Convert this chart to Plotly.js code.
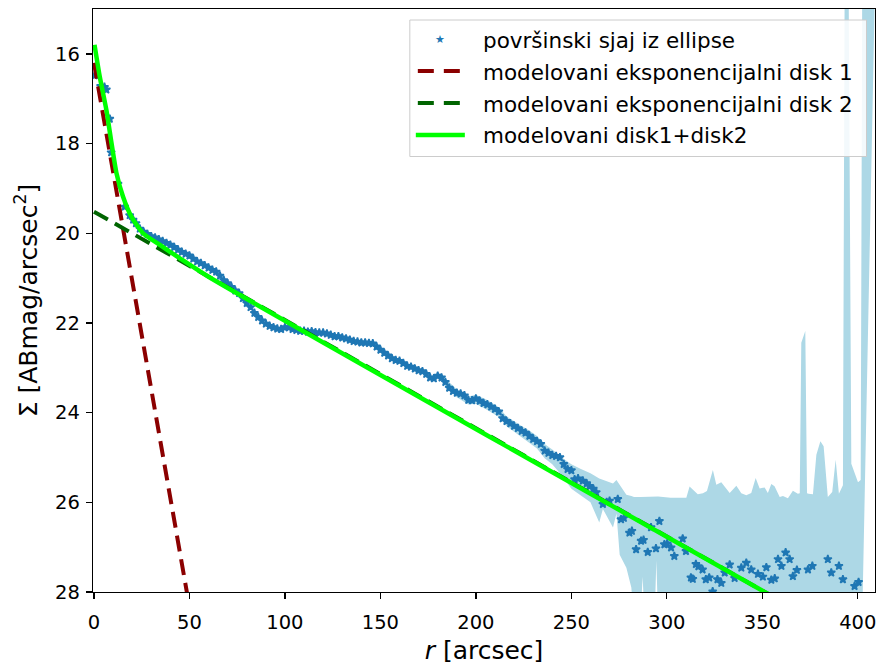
<!DOCTYPE html>
<html>
<head>
<meta charset="utf-8">
<script src="https://cdn.plot.ly/plotly-3.0.1.min.js"></script>
<style>html,body{margin:0;padding:0;background:#fff}#chart{width:880px;height:666px}</style>
</head>
<body>
<div id="chart"></div>
<script>
const rObs = [0.4,3.5,4.5,5.5,6.5,8.3,9.0,12.6,16.1,18.7,20.5,22,24,26,28,30,32,34,36,38,40,42,44,46,48,50,52,54,56,58,60,62,64,66,68,70,72,74,76,78,80,82,84,86,88,90,92,94,96,98,100,102,104,106,108,110,112,114,116,118,120,122,124,126,128,130,132,134,136,138,140,142,144,146,148,150,152,154,156,158,160,162,164,166,168,170,172,174,176,178,180,182,184,186,188,190,192,194,196,198,200,202,204,206,208,210,212,214,216,218,220,222,224,226,228,230,232,234,236,238,240,242,244,246,248,250,
251.7,253.5,256,258,259.5,261.5,263,266.5,268.5,270,274.3,276,277.5,280.4,281.7,283.9,286.5,287.8,290,291.7,294.3,296.1,298.7,300.2,302.2,303.9,308.3,310,312.6,313.6,315.2,316.5,318.7,320.4,322.2,324,326.5,328.5,330.3,332.9,335.5,339,341.6,344.2,347.7,350.3,352.1,354.7,356.5,358.2,360,362.2,364.3,366,368.1,373.9,376.2,384.3,386.1,390.1,392.2,398.3,400.4];
const muObs = [16.48,16.72,16.78,16.74,16.8,17.45,18.2,18.9,19.41,19.6,19.7,19.78,19.9,19.97,20.02,20.07,20.1,20.14,20.18,20.22,20.26,20.31,20.37,20.42,20.46,20.5,20.57,20.63,20.67,20.72,20.77,20.82,20.86,20.95,21.05,21.12,21.2,21.28,21.34,21.45,21.56,21.65,21.78,21.87,21.95,22.02,22.07,22.1,22.13,22.14,22.1,22.1,22.14,22.16,22.18,22.18,22.2,22.19,22.21,22.22,22.22,22.24,22.27,22.3,22.3,22.33,22.35,22.38,22.41,22.42,22.44,22.44,22.45,22.46,22.53,22.6,22.67,22.73,22.79,22.83,22.85,22.9,22.96,22.98,23.02,23.06,23.08,23.14,23.22,23.24,23.18,23.22,23.32,23.45,23.52,23.56,23.58,23.62,23.72,23.73,23.69,23.74,23.79,23.82,23.87,23.92,23.98,24.13,24.19,24.24,24.3,24.35,24.41,24.45,24.52,24.59,24.64,24.7,24.85,24.9,24.95,24.97,25.0,25.15,25.26,25.29,
25.49,25.47,25.52,25.58,25.64,25.7,25.78,26.04,26.0,25.97,25.93,26.38,26.35,26.68,26.64,27.05,26.86,26.84,27.11,26.56,27.03,26.42,26.94,26.92,27.01,27.2,26.81,27.09,27.68,27.71,27.38,27.43,27.5,27.72,27.68,27.99,27.72,27.8,27.57,27.39,27.69,27.46,27.35,27.5,27.6,27.66,27.45,27.73,27.7,27.27,27.42,27.12,27.27,27.65,27.51,27.5,27.42,27.27,27.57,27.42,27.72,27.87,27.78];

// ---- uncertainty band ----
const bandR = [184,190,196,200,206,212,216,220,224,228,232,236,240,245,250,255,260,264.6,266.5,271.8,273.6,275.3,278.8,281.4,282.8,286.2,287.3,288.4,293.6,294.5,295.4,302,310.2,311.9,313.5,316.2,318.9,321,324.1,325.9,328.5,332.9,336.4,339,341.6,344.2,346.5,348.6,351.2,352.9,354.7,356.4,359.1,360.8,363.4,366.0,368.6,369.6,370.4,372.5,373.4,374.2,376.5,378.3,380.4,382.1,384.3,386.6,388.4,390.1,392.2,393.1,395.2,396.6,400.1,401.5,402.3,409];
const bandTop = [23.24,23.48,23.64,23.6,23.72,23.88,24.08,24.2,24.3,24.4,24.52,24.7,24.82,25.0,25.15,25.26,25.35,25.47,25.5,25.58,25.5,25.6,25.83,25.86,25.88,25.88,25.88,25.88,25.87,25.87,25.87,25.9,25.9,25.65,25.72,25.82,25.8,25.75,25.28,25.61,25.55,25.79,25.63,25.8,25.84,25.79,25.46,25.69,25.67,25.79,25.59,25.64,25.88,25.86,25.91,25.74,25.81,25.8,22.44,22.18,25.8,25.81,25.82,24.94,24.64,24.75,25.88,25.77,25.05,25.81,25.62,14.5,14.5,25.14,25.55,25.5,14.5,14.5];
const bandBot = [23.42,23.66,23.82,23.8,23.94,24.1,24.3,24.42,24.54,24.66,24.8,25.02,25.15,25.4,25.7,25.85,26.0,26.45,26.15,26.56,26.25,27.17,27.46,27.9,28.6,28.6,27.66,28.6,28.6,27.3,28.6,
28.6,28.6,28.6,28.6,28.6,28.6,28.6,28.6,28.6,28.6,28.6,28.6,28.6,28.6,28.6,28.6,28.6,28.6,28.6,28.6,28.6,28.6,28.6,28.6,28.6,28.6,28.6,28.6,28.6,28.6,28.6,28.6,28.6,28.6,28.6,28.6,28.6,28.6,28.6,28.6,28.6,28.6,28.6,28.6,28.6,28.6];

// ---- models ----
const disk1R = [0, 50];
const disk1Mu = [16.2, 28.33];
const disk2R = [0, 355];
const disk2Mu = [19.52, 28.09];
const sumR = [0.3, 3.0, 6.5, 9.2, 11.8, 15.2, 19.6, 25.7, 34.5, 45, 60, 355];
const sumMu = [15.8, 16.5, 17.25, 17.99, 18.66, 19.18, 19.63, 20.0, 20.26, 20.56, 20.97, 28.09];

const xTicks = [0,50,100,150,200,250,300,350,400];
const yTicks = [16,18,20,22,24,26,28];
const legendLabels = ['površinski sjaj iz ellipse','modelovani eksponencijalni disk 1','modelovani eksponencijalni disk 2','modelovani disk1+disk2'];

const FONT = 'DejaVu Sans, sans-serif';
const traces = [
  {x: bandR, y: bandBot, type:'scatter', mode:'lines', line:{width:0, color:'#add8e6'}, hoverinfo:'skip', showlegend:false},
  {x: bandR, y: bandTop, type:'scatter', mode:'lines', line:{width:0, color:'#add8e6'}, fill:'tonexty', fillcolor:'#add8e6', hoverinfo:'skip', showlegend:false},
  {x: rObs, y: muObs, type:'scatter', mode:'markers', marker:{symbol:'star', size:6, color:'#1f77b4', line:{width:1.6, color:'#1f77b4'}}, showlegend:false},
  {x: disk1R, y: disk1Mu, type:'scatter', mode:'lines', line:{color:'#8b0000', width:4, dash:'16px,8px'}, showlegend:false},
  {x: disk2R, y: disk2Mu, type:'scatter', mode:'lines', line:{color:'#006400', width:4, dash:'16px,8px'}, showlegend:false},
  {x: sumR, y: sumMu, type:'scatter', mode:'lines', line:{color:'#00ff00', width:4.5, shape:'spline', smoothing:0.6}, showlegend:false}
];

// plot box in pixels
const L = 93.3, R = 875, T = 9, B = 592;
const px = v => (v - L) / (R - L);
const py = v => 1 - (v - T) / (B - T);

const shapes = [
  {type:'rect', xref:'paper', yref:'paper', x0:px(410), x1:px(866.5), y0:py(156.5), y1:py(20), line:{color:'#cccccc', width:1}, fillcolor:'rgba(255,255,255,0.85)', layer:'above'},
  {type:'line', xref:'paper', yref:'paper', x0:px(418), x1:px(462), y0:py(71), y1:py(71), line:{color:'#8b0000', width:4, dash:'16px,10px'}, layer:'above'},
  {type:'line', xref:'paper', yref:'paper', x0:px(418), x1:px(462), y0:py(103), y1:py(103), line:{color:'#006400', width:4, dash:'16px,10px'}, layer:'above'},
  {type:'line', xref:'paper', yref:'paper', x0:px(416), x1:px(465), y0:py(135), y1:py(135), line:{color:'#00ff00', width:4.5}, layer:'above'}
];
const rowY = [41, 72.5, 104, 135.5];
const annotations = legendLabels.map((t,i) => ({
  text:t, xref:'paper', yref:'paper', x:px(481), y:py(rowY[i]), xanchor:'left', yanchor:'middle', showarrow:false,
  font:{family:FONT, size:21.5, color:'#000'}
}));
annotations.push({text:'★', xref:'paper', yref:'paper', x:px(440), y:py(39.5), xanchor:'center', yanchor:'middle', showarrow:false, font:{family:FONT, size:11, color:'#1f77b4'}});

const layout = {
  width:880, height:666,
  margin:{l:L, r:880-R, t:T, b:666-B, pad:0},
  paper_bgcolor:'#fff', plot_bgcolor:'#fff',
  showlegend:false,
  font:{family:FONT, color:'#000'},
  xaxis:{range:[-0.5, 409], tickvals:xTicks, ticktext:xTicks.map(String), ticks:'outside', ticklen:6, tickwidth:1.3, tickcolor:'#000',
    showline:true, linecolor:'#000', linewidth:1.3, mirror:true, showgrid:false, zeroline:false, ticklabelstandoff:6,
    tickfont:{family:FONT, size:19.5, color:'#000'},
    title:{text:'<i>r</i> [arcsec]', font:{family:FONT, size:25, color:'#000'}, standoff:8}},
  yaxis:{range:[28, 15], tickvals:yTicks, ticktext:yTicks.map(String), ticks:'outside', ticklen:6, tickwidth:1.3, tickcolor:'#000',
    showline:true, linecolor:'#000', linewidth:1.3, mirror:true, showgrid:false, zeroline:false, ticklabelstandoff:2,
    tickfont:{family:FONT, size:19.5, color:'#000'},
    title:{text:'Σ [ABmag/arcsec<sup>2</sup>]', font:{family:FONT, size:25, color:'#000'}, standoff:10}},
  shapes:shapes,
  annotations:annotations
};
Plotly.newPlot('chart', traces, layout, {displayModeBar:false, staticPlot:true});
</script>
</body>
</html>
